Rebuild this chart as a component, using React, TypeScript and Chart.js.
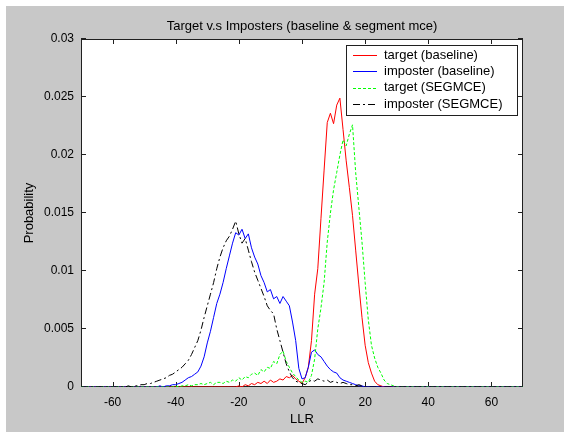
import React, { useEffect, useRef } from "react";
import { Chart, registerables } from "chart.js";

Chart.register(...registerables);

const TITLE = "Target v.s Imposters (baseline & segment mce)";
const X_TITLE = "LLR";
const Y_TITLE = "Probability";
const X_TICKS = [-60, -40, -20, 0, 20, 40, 60];
const Y_TICKS = [0, 0.005, 0.01, 0.015, 0.02, 0.025, 0.03];
const Y_TICK_LABELS = ["0", "0.005", "0.01", "0.015", "0.02", "0.025", "0.03"];
const SERIES_NAMES = ["target (baseline)", "imposter (baseline)", "target (SEGMCE)", "imposter (SEGMCE)"];

// LLR bins: -70, then -56..30, then 70
const LLR = [
  -70,
  -56, -55, -54, -53, -52, -51, -50, -49, -48, -47, -46, -45, -44, -43, -42, -41,
  -40, -39, -38, -37, -36, -35, -34, -33, -32, -31, -30, -29, -28, -27, -26, -25,
  -24, -23, -22, -21, -20, -19, -18, -17, -16, -15, -14, -13, -12, -11, -10, -9,
  -8, -7, -6, -5, -4, -3, -2, -1, 0, 1, 2, 3, 4, 5, 6, 7,
  8, 9, 10, 11, 12, 13, 14, 15, 16, 17, 18, 19, 20, 21, 22, 23,
  24, 25, 26, 27, 28, 29, 30,
  70,
];

const TARGET_BASE = [
  0,
  0, 0, 0, 0, 0, 0, 0, 0, 0, 0, 0, 0, 0, 0, 0, 0,
  0, 0, 0, 0, 0, 0, 0, 0, 0, 0, 0, 0, 0, 0, 0, 0,
  0, 0, 0, 0, 0.0001, 0, 0.0002, 0.0001, 0.0003, 0.0002, 0.0004, 0.0003, 0.0005, 0.0003, 0.0006, 0.0004,
  0.0005, 0.0007, 0.0006, 0.0009, 0.0008, 0.001, 0.0007, 0.0005, 0.0003, 0.0008, 0.0017, 0.004, 0.008, 0.0102, 0.0145, 0.0187,
  0.0228, 0.0236, 0.0227, 0.0243, 0.0249, 0.0222, 0.0195, 0.0172, 0.0148, 0.0118, 0.0088, 0.006, 0.0036, 0.0021, 0.0012, 0.0005,
  0.0002, 0.0001, 0, 0, 0, 0, 0,
  0,
];

const IMPOSTER_BASE = [
  0,
  0, 0, 0, 0, 0, 0, 0, 0, 0, 0, 0, 0.0001, 0, 0.0001, 0.0001, 0.0002,
  0.0002, 0.0003, 0.0004, 0.0006, 0.0008, 0.0009, 0.0011, 0.0013, 0.0018, 0.0026, 0.0038, 0.0048, 0.006, 0.0072, 0.008, 0.009,
  0.0102, 0.0113, 0.0124, 0.0133, 0.0131, 0.0136, 0.0128, 0.0132, 0.012, 0.0112, 0.0106, 0.0096, 0.009, 0.0082, 0.0084, 0.0076,
  0.0078, 0.0072, 0.0078, 0.0074, 0.007, 0.0056, 0.004, 0.0016, 0.0007, 0.0008, 0.0017, 0.003, 0.0032, 0.0028, 0.0026, 0.0022,
  0.0018, 0.0015, 0.0013, 0.0012, 0.0008, 0.0006, 0.0005, 0.0004, 0.0003, 0.0002, 0.0001, 0.0001, 0, 0, 0, 0,
  0, 0, 0, 0, 0, 0, 0,
  0,
];

const TARGET_SEG = [
  0,
  0, 0, 0, 0, 0, 0, 0, 0, 0, 0, 0, 0, 0, 0, 0, 0,
  0.0001, 0, 0.0001, 0.0001, 0.0002, 0.0001, 0.0002, 0.0002, 0.0003, 0.0002, 0.0003, 0.0004, 0.0002, 0.0004, 0.0004, 0.0003,
  0.0005, 0.0004, 0.0006, 0.0005, 0.0008, 0.0006, 0.0009, 0.0008, 0.0011, 0.0012, 0.001, 0.0015, 0.0013, 0.0017, 0.0016, 0.0022,
  0.002, 0.0028, 0.0031, 0.0022, 0.0017, 0.0012, 0.0009, 0.0006, 0.0004, 0.0005, 0.0004, 0.001, 0.0024, 0.005, 0.0068, 0.009,
  0.0125, 0.015, 0.017, 0.0185, 0.02, 0.0213, 0.0208, 0.0218, 0.0226, 0.0185, 0.0155, 0.0125, 0.009, 0.0058, 0.0036, 0.0025,
  0.0017, 0.0012, 0.0006, 0.0003, 0.0002, 0.0001, 0,
  0,
];

const IMPOSTER_SEG = [
  0,
  0, 0.0001, 0, 0.0001, 0.0001, 0.0002, 0.0002, 0.0003, 0.0003, 0.0004, 0.0005, 0.0006, 0.0007, 0.0008, 0.001, 0.0011,
  0.0013, 0.0015, 0.0017, 0.002, 0.0023, 0.0028, 0.0034, 0.004, 0.0049, 0.006, 0.007, 0.008, 0.009, 0.0102, 0.0112, 0.012,
  0.0126, 0.013, 0.0136, 0.0143, 0.0132, 0.0124, 0.0128, 0.0118, 0.0108, 0.0099, 0.0092, 0.0085, 0.0078, 0.007, 0.0066, 0.0063,
  0.005, 0.004, 0.003, 0.002, 0.0013, 0.0008, 0.0005, 0.0004, 0.0003, 0.0002, 0.0004, 0.0006, 0.0005, 0.0007, 0.0006, 0.0005,
  0.0006, 0.0004, 0.0005, 0.0004, 0.0003, 0.0004, 0.0003, 0.0002, 0.0002, 0.0001, 0.0002, 0.0001, 0, 0, 0, 0,
  0, 0, 0, 0, 0, 0, 0,
  0,
];

const COLORS = ["#ff0000", "#0000ff", "#00ff00", "#000000"];
const DASHES: number[][] = [[], [], [3, 2], [7, 3, 2, 3]];
const FONT = '"Liberation Sans", Arial, Helvetica, sans-serif';
const GRAY = "#c8c8c8";

const matlabPlugin = {
  id: "matlabLook",
  beforeDraw(chart: any) {
    const { ctx, chartArea: a } = chart;
    ctx.save();
    ctx.fillStyle = "#ffffff";
    ctx.fillRect(0, 0, chart.width, chart.height);
    ctx.fillStyle = GRAY;
    ctx.fillRect(6, 6, chart.width - 12, chart.height - 6);
    ctx.fillStyle = "#ffffff";
    ctx.fillRect(a.left, a.top, a.right - a.left, a.bottom - a.top);
    ctx.fillStyle = "#000000";
    ctx.font = "13px " + FONT;
    ctx.textAlign = "center";
    ctx.textBaseline = "middle";
    ctx.fillText(TITLE, (a.left + a.right) / 2, 26);
    ctx.restore();
  },
  beforeDatasetsDraw(chart: any) {
    const { ctx, chartArea: a, scales } = chart;
    ctx.save();
    ctx.strokeStyle = "#202020";
    ctx.lineWidth = 1;
    ctx.setLineDash([]);
    ctx.strokeRect(Math.round(a.left) + 0.5, Math.round(a.top) + 0.5, Math.round(a.right - a.left) - 1, Math.round(a.bottom - a.top) - 1);
    ctx.beginPath();
    for (const v of X_TICKS) {
      const x = Math.round(scales.x.getPixelForValue(v)) + 0.5;
      ctx.moveTo(x, a.bottom);
      ctx.lineTo(x, a.bottom - 5);
      ctx.moveTo(x, a.top);
      ctx.lineTo(x, a.top + 5);
    }
    for (const v of Y_TICKS) {
      const y = Math.round(scales.y.getPixelForValue(v)) - 0.5;
      ctx.moveTo(a.left, y);
      ctx.lineTo(a.left + 5, y);
      ctx.moveTo(a.right, y);
      ctx.lineTo(a.right - 5, y);
    }
    ctx.stroke();
    ctx.restore();
  },
  afterDraw(chart: any) {
    const { ctx } = chart;
    ctx.save();
    const bx = 346, by = 45, bw = 171, bh = 70;
    ctx.fillStyle = "#ffffff";
    ctx.fillRect(bx, by, bw, bh);
    ctx.strokeStyle = "#202020";
    ctx.lineWidth = 1;
    ctx.setLineDash([]);
    ctx.strokeRect(bx + 0.5, by + 0.5, bw, bh);
    ctx.font = "13px " + FONT;
    ctx.textAlign = "left";
    ctx.textBaseline = "middle";
    SERIES_NAMES.forEach((name, i) => {
      const y = 55 + i * 16.4;
      const yy = Math.round(y);
      if (DASHES[i].length === 0) {
        ctx.fillStyle = COLORS[i];
        ctx.fillRect(353, yy, 24, 1);
      } else {
        ctx.beginPath();
        ctx.strokeStyle = COLORS[i];
        ctx.setLineDash(DASHES[i]);
        ctx.moveTo(353, yy + 0.5);
        ctx.lineTo(377, yy + 0.5);
        ctx.stroke();
        ctx.setLineDash([]);
      }
      ctx.fillStyle = "#000000";
      ctx.fillText(name, 384, y);
    });
    ctx.restore();
  },
};

export default function App() {
  const ref = useRef<HTMLCanvasElement>(null);
  useEffect(() => {
    if (!ref.current) return;
    const seriesList = [TARGET_BASE, IMPOSTER_BASE, TARGET_SEG, IMPOSTER_SEG];
    const chart = new Chart(ref.current, {
      type: "line",
      data: {
        datasets: seriesList.map((vals, i) => ({
          label: SERIES_NAMES[i],
          data: LLR.map((x, j) => ({ x, y: vals[j] })),
          borderColor: COLORS[i],
          borderWidth: 1,
          borderDash: DASHES[i],
          pointRadius: 0,
          tension: 0,
          fill: false,
          order: 4 - i,
        })),
      },
      options: {
        animation: false,
        responsive: false,
        events: [],
        layout: { padding: { left: 19, right: 47, top: 39, bottom: 0 } },
        plugins: {
          legend: { display: false },
          tooltip: { enabled: false },
          title: { display: false },
        },
        scales: {
          x: {
            type: "linear",
            min: -70,
            max: 70,
            afterBuildTicks: (s: any) => {
              s.ticks = X_TICKS.map((v) => ({ value: v }));
            },
            afterFit: (s: any) => {
              s.height = 45;
            },
            grid: { display: false, drawTicks: false },
            border: { display: false },
            ticks: {
              autoSkip: false,
              maxRotation: 0,
              padding: 8,
              color: "#000",
              font: { size: 12, family: FONT },
              callback: (v: any) => String(v),
            },
            title: {
              display: true,
              text: X_TITLE,
              color: "#000",
              font: { size: 13, family: FONT },
              padding: { top: 0, bottom: 5 },
            },
          },
          y: {
            type: "linear",
            min: 0,
            max: 0.03,
            afterBuildTicks: (s: any) => {
              s.ticks = Y_TICKS.map((v) => ({ value: v }));
            },
            afterFit: (s: any) => {
              s.width = 62;
            },
            grid: { display: false, drawTicks: false },
            border: { display: false },
            ticks: {
              autoSkip: false,
              padding: 7,
              color: "#000",
              font: { size: 12, family: FONT },
              callback: (_v: any, i: number) => Y_TICK_LABELS[i],
            },
            title: {
              display: true,
              text: Y_TITLE,
              color: "#000",
              font: { size: 13, family: FONT },
              padding: { top: 3, bottom: 0 },
            },
          },
        },
      },
      plugins: [matlabPlugin],
    } as any);
    return () => chart.destroy();
  }, []);
  return (
    <div style={{ position: "fixed", left: 0, top: 0, width: 570, height: 432 }}>
      <canvas ref={ref} width={570} height={432} style={{ display: "block" }} />
    </div>
  );
}
